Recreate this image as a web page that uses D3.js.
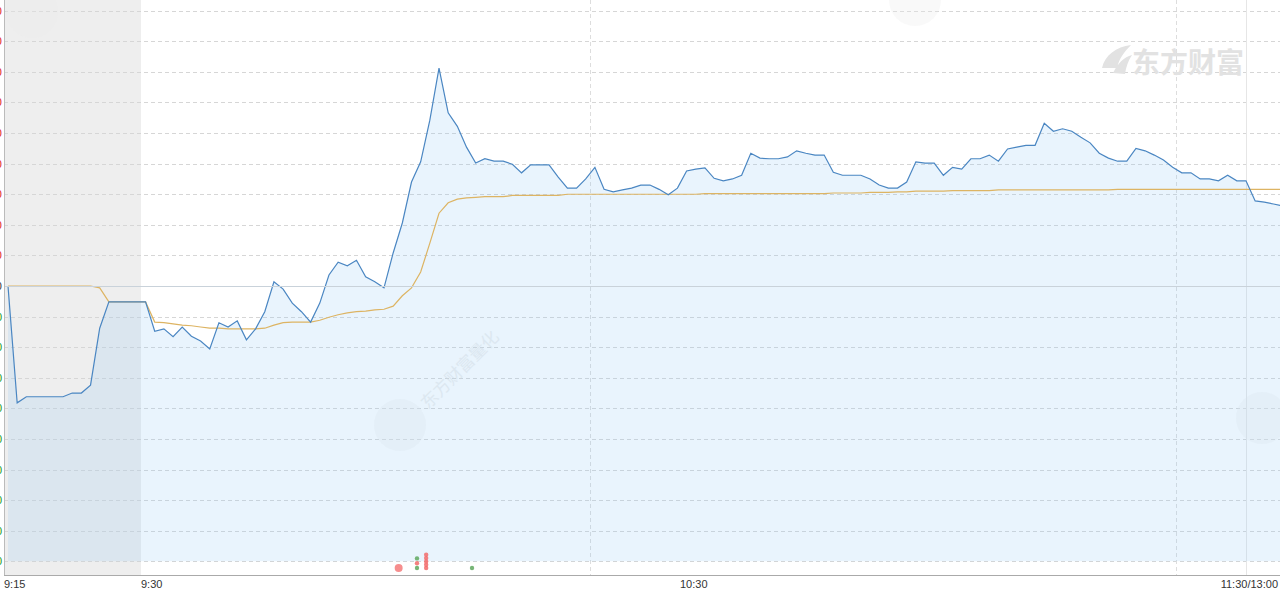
<!DOCTYPE html>
<html>
<head>
<meta charset="utf-8">
<script src="https://cdn.jsdelivr.net/npm/d3@7"></script>
<style>
  body { margin: 0; background: #fff; overflow: hidden; }
  svg { display: block; font-family: Arial, "Liberation Sans", sans-serif; }
</style>
</head>
<body>
<div id="chart"></div>
<script>
// intraday line, % change vs previous close, one value per minute from 9:15
// (9:15-9:30 call auction, 9:30-11:30 morning, then 13:01 onwards)
var price = [
  0.00, -1.91, -1.81, -1.81, -1.81, -1.81, -1.81, -1.75, -1.75, -1.62,
  -0.69, -0.26, -0.26, -0.26, -0.26, -0.26, -0.74, -0.70, -0.83, -0.67,
  -0.82, -0.90, -1.03, -0.60, -0.67, -0.57, -0.88, -0.70, -0.42, 0.07,
  -0.05, -0.28, -0.42, -0.59, -0.28, 0.18, 0.39, 0.33, 0.42, 0.15,
  0.07, -0.03, 0.54, 1.03, 1.70, 2.03, 2.71, 3.56, 2.83, 2.61,
  2.27, 2.01, 2.08, 2.04, 2.04, 1.99, 1.85, 1.98, 1.98, 1.98,
  1.78, 1.60, 1.60, 1.75, 1.94, 1.58, 1.54, 1.57, 1.60, 1.65,
  1.65, 1.58, 1.49, 1.60, 1.88, 1.91, 1.93, 1.76, 1.72, 1.75,
  1.81, 2.17, 2.09, 2.08, 2.08, 2.11, 2.21, 2.17, 2.14, 2.14,
  1.86, 1.81, 1.81, 1.81, 1.75, 1.65, 1.60, 1.60, 1.70, 2.03,
  2.01, 2.01, 1.81, 1.94, 1.91, 2.08, 2.08, 2.14, 2.04, 2.24,
  2.27, 2.30, 2.30, 2.66, 2.53, 2.57, 2.53, 2.43, 2.34, 2.17,
  2.09, 2.04, 2.04, 2.25, 2.21, 2.14, 2.06, 1.94, 1.85, 1.85,
  1.75, 1.75, 1.72, 1.81, 1.72, 1.72, 1.39, 1.37, 1.34, 1.31
];

// average price line, same minutes
var avgPrice = [
  0.00, 0.00, 0.00, 0.00, 0.00, 0.00, 0.00, 0.00, 0.00, 0.00,
  -0.03, -0.26, -0.26, -0.26, -0.26, -0.26, -0.59, -0.60, -0.62, -0.64,
  -0.65, -0.67, -0.69, -0.69, -0.70, -0.70, -0.70, -0.70, -0.69, -0.64,
  -0.60, -0.59, -0.59, -0.59, -0.56, -0.51, -0.47, -0.44, -0.42, -0.41,
  -0.39, -0.38, -0.33, -0.16, -0.03, 0.23, 0.70, 1.19, 1.36, 1.42,
  1.44, 1.45, 1.46, 1.46, 1.46, 1.48, 1.48, 1.48, 1.48, 1.48,
  1.48, 1.50, 1.50, 1.50, 1.50, 1.50, 1.50, 1.50, 1.50, 1.50,
  1.50, 1.50, 1.50, 1.50, 1.50, 1.50, 1.51, 1.51, 1.51, 1.51,
  1.51, 1.51, 1.51, 1.51, 1.51, 1.51, 1.51, 1.51, 1.51, 1.51,
  1.52, 1.52, 1.52, 1.52, 1.53, 1.53, 1.53, 1.54, 1.54, 1.55,
  1.55, 1.55, 1.55, 1.56, 1.56, 1.56, 1.56, 1.56, 1.57, 1.57,
  1.57, 1.57, 1.57, 1.57, 1.57, 1.57, 1.57, 1.57, 1.57, 1.57,
  1.57, 1.58, 1.58, 1.58, 1.58, 1.58, 1.58, 1.58, 1.58, 1.58,
  1.58, 1.58, 1.58, 1.58, 1.58, 1.58, 1.58, 1.58, 1.58, 1.58
];

var timeLabels = ["9:15", "9:30", "10:30", "11:30/13:00"];
var timeLabelIdx = [0, 15, 75, 135];
var yTicks = [-4.5, -4.0, -3.5, -3.0, -2.5, -2.0, -1.5, -1.0, -0.5, 0,
              0.5, 1.0, 1.5, 2.0, 2.5, 3.0, 3.5, 4.0, 4.5];

// large order markers near the bottom: minute position and stacked sides
var orderIdx = [42.6, 44.6, 45.6, 50.6];
var orderSides = [["B"], ["S", "B", "S"], ["B", "B", "B", "B", "B"], ["S"]];

var svgWidth = 1280, svgHeight = 590;
var plotLeft = 4, plotRight = 1280, plotTop = 0, plotBottom = 572, axisY = 575;

var svg = d3.select("#chart").append("svg")
  .attr("width", svgWidth)
  .attr("height", svgHeight);

// x: one step per minute, lunch break collapsed at 11:30/13:00
var xScale = d3.scaleLinear().domain([0, 135]).range([8, 1246]);
var yScale = d3.scaleLinear().domain([-4.675, 4.675]).range([plotBottom, plotTop]);

svg.append("clipPath").attr("id", "plotClip")
  .append("rect")
  .attr("x", plotLeft).attr("y", 0)
  .attr("width", plotRight - plotLeft).attr("height", axisY);

// call auction background
svg.append("rect")
  .attr("x", plotLeft)
  .attr("y", 0)
  .attr("width", xScale(14.5) - plotLeft)
  .attr("height", axisY)
  .attr("fill", "#eeeeee");

// horizontal grid
svg.append("g").selectAll("line")
  .data(yTicks.filter(d => d !== 0))
  .enter().append("line")
  .attr("x1", plotLeft).attr("x2", plotRight)
  .attr("y1", d => Math.round(yScale(d)) + 0.5)
  .attr("y2", d => Math.round(yScale(d)) + 0.5)
  .attr("stroke", "#d6d6d6")
  .attr("stroke-dasharray", "4,3");

// vertical grid (panel divisions)
var colStep = 586;
svg.append("g").selectAll("line")
  .data([plotLeft + colStep, plotLeft + 2 * colStep])
  .enter().append("line")
  .attr("x1", d => d + 0.5).attr("x2", d => d + 0.5)
  .attr("y1", 0).attr("y2", axisY)
  .attr("stroke", "#dddddd")
  .attr("stroke-dasharray", "4,3");

// 11:30 / 13:00 session divider
svg.append("line")
  .attr("x1", Math.round(xScale(135)) + 0.5).attr("x2", Math.round(xScale(135)) + 0.5)
  .attr("y1", 0).attr("y2", axisY)
  .attr("stroke", "#e6e6e6");

// watermarks
var wm = svg.append("g").attr("pointer-events", "none");
[[400, 425], [915, 0], [1262, 418], [32, 12]].forEach(function(c) {
  wm.append("circle").attr("cx", c[0]).attr("cy", c[1]).attr("r", 26)
    .attr("fill", "#ececec").attr("opacity", 0.3);
});
wm.append("text")
  .attr("transform", "translate(428,410) rotate(-45)")
  .attr("font-size", 17)
  .attr("font-family", "Noto Sans CJK SC")
  .attr("fill", "#dddddd").attr("opacity", 0.45)
  .text("东方财富量化");
wm.append("path")
  .attr("d", "M1102,68 C1105,55 1116,47 1131,45 C1124,52 1119,59 1117,68 Z M1113,73 C1118,63 1124,57 1132,55 C1128,61 1126,67 1125,74 Z")
  .attr("fill", "#e2e2e2");
wm.append("text")
  .attr("x", 1132).attr("y", 73)
  .attr("font-size", 28)
  .attr("font-weight", "bold")
  .attr("font-family", "Noto Sans CJK SC")
  .attr("fill", "#e2e2e2")
  .text("东方财富");

var plot = svg.append("g").attr("clip-path", "url(#plotClip)");

// area under price line
var area = d3.area()
  .x((d, i) => xScale(i))
  .y0(yScale(-4.5))
  .y1(d => yScale(d));

plot.append("path")
  .datum(price)
  .attr("d", area)
  .attr("fill", "rgb(145,202,244)")
  .attr("fill-opacity", 0.2);

// previous close line
svg.append("line")
  .attr("x1", plotLeft).attr("x2", plotRight)
  .attr("y1", Math.round(yScale(0)) + 0.5).attr("y2", Math.round(yScale(0)) + 0.5)
  .attr("stroke", "#c9d2da");

var line = d3.line()
  .x((d, i) => xScale(i))
  .y(d => yScale(d));

plot.append("path")
  .datum(avgPrice)
  .attr("d", line)
  .attr("fill", "none")
  .attr("stroke", "#ddb463")
  .attr("stroke-width", 1.2);

plot.append("path")
  .datum(price)
  .attr("d", line)
  .attr("fill", "none")
  .attr("stroke", "#4a86c2")
  .attr("stroke-width", 1.2);

// order markers
var orders = svg.append("g");
orderIdx.forEach(function(t, k) {
  var sides = orderSides[k];
  if (k === 0) {
    orders.append("circle")
      .attr("cx", xScale(t)).attr("cy", 568).attr("r", 4)
      .attr("fill", "#f47a7a").attr("opacity", 0.85);
    return;
  }
  sides.forEach(function(s, j) {
    orders.append("circle")
      .attr("cx", xScale(t))
      .attr("cy", 568 - j * (sides.length > 3 ? 3.3 : 4.8))
      .attr("r", 2.2)
      .attr("fill", s === "B" ? "#f26b6b" : "#5fa85f")
      .attr("opacity", 0.85);
  });
});

// axes lines
svg.append("line")
  .attr("x1", plotLeft + 0.5).attr("x2", plotLeft + 0.5)
  .attr("y1", 0).attr("y2", axisY)
  .attr("stroke", "#bbbbbb");
svg.append("line")
  .attr("x1", plotLeft).attr("x2", plotRight)
  .attr("y1", axisY + 0.5).attr("y2", axisY + 0.5)
  .attr("stroke", "#aaaaaa");

// y labels (cut off at the left edge, as in the source screenshot)
svg.append("g").selectAll("text")
  .data(yTicks)
  .enter().append("text")
  .attr("x", 2)
  .attr("y", d => yScale(d) + 4)
  .attr("text-anchor", "end")
  .attr("font-size", 11)
  .attr("fill", d => d > 0 ? "#e02020" : (d < 0 ? "#1a9a1a" : "#333"))
  .text(d => d.toFixed(2));

// time labels
var anchors = ["start", "start", "middle", "end"];
svg.append("g").selectAll("text")
  .data(timeLabels)
  .enter().append("text")
  .attr("x", (d, i) => i === 0 ? plotLeft : i === 1 ? xScale(14.5) : i === 3 ? svgWidth - 2 : xScale(timeLabelIdx[i]) - 2)
  .attr("y", 588)
  .attr("text-anchor", (d, i) => anchors[i])
  .attr("font-size", 11)
  .attr("fill", "#333")
  .text(d => d);
</script>
</body>
</html>
